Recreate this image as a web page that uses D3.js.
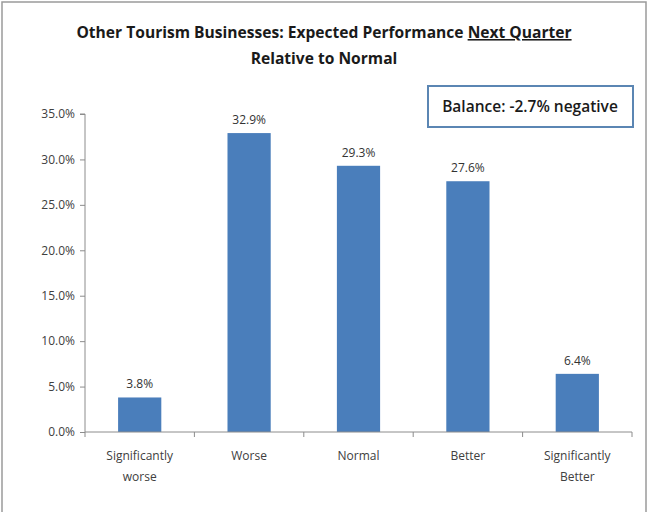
<!DOCTYPE html>
<html>
<head>
<meta charset="utf-8">
<script src="https://cdn.jsdelivr.net/npm/d3@7"></script>
<style>
  html, body { margin: 0; padding: 0; background: #fff; }
  svg { display: block; }
</style>
</head>
<body>
<svg id="chart" width="648" height="512"></svg>
<script>
// Survey outcome categories and share of responses (%)
const categories = ["Significantly worse", "Worse", "Normal", "Better", "Significantly Better"];
const categoryLines = [["Significantly", "worse"], ["Worse"], ["Normal"], ["Better"], ["Significantly", "Better"]];
const values = [3.8, 32.9, 29.3, 27.6, 6.4];
const yTicks = [0, 5, 10, 15, 20, 25, 30, 35];
const balanceText = "Balance: -2.7% negative";

const svg = d3.select("#chart");
const font = "'Open Sans', 'Liberation Sans', sans-serif";

// Outer frame
svg.append("rect")
  .attr("x", 2).attr("y", 2).attr("width", 644).attr("height", 514)
  .attr("fill", "#fff").attr("stroke", "#9a9a9a").attr("stroke-width", 1.5);

const margin = { left: 85, right: 632, top: 114, bottom: 432 };

const x = d3.scaleBand()
  .domain(categories)
  .range([margin.left, margin.right])
  .paddingInner(0.605).paddingOuter(0.3025);

const y = d3.scaleLinear().domain([0, 35]).range([margin.bottom, margin.top]);

// Title
const title = svg.append("g").attr("font-family", font).attr("font-weight", "bold")
  .attr("font-size", 15.6).attr("fill", "#1a1a1a").attr("text-anchor", "middle");
const t1 = title.append("text").attr("x", 324).attr("y", 38);
t1.append("tspan").text("Other Tourism Businesses: Expected Performance ");
t1.append("tspan").attr("text-decoration", "underline").text("Next Quarter");
title.append("text").attr("x", 324).attr("y", 64).text("Relative to Normal");

// Y axis
const yAxis = d3.axisLeft(y).tickValues(yTicks).tickSize(5).tickPadding(5)
  .tickFormat(d => d.toFixed(1) + "%");
const gy = svg.append("g").attr("transform", `translate(${margin.left},0)`).call(yAxis);
gy.select(".domain").attr("stroke", "#8c8c8c").attr("d", `M-5,${margin.top}H0V${margin.bottom}`);
gy.selectAll(".tick line").attr("stroke", "#8c8c8c");
gy.selectAll(".tick text").attr("font-family", font).attr("font-size", 12).attr("fill", "#404040");

// Bars
svg.append("g").selectAll("rect").data(values).join("rect")
  .attr("x", (d, i) => x(categories[i]))
  .attr("y", d => y(d))
  .attr("width", x.bandwidth())
  .attr("height", d => y(0) - y(d))
  .attr("fill", "#4a7ebb");

// Value labels
svg.append("g").selectAll("text").data(values).join("text")
  .attr("x", (d, i) => x(categories[i]) + x.bandwidth() / 2)
  .attr("y", d => y(d) - 9)
  .attr("text-anchor", "middle")
  .attr("font-family", font).attr("font-size", 12).attr("fill", "#333")
  .text(d => d.toFixed(1) + "%");

// X axis with category boundaries
const step = x.step();
const bounds = d3.range(categories.length + 1).map(i => margin.left + i * step);
const gx = svg.append("g");
gx.append("line").attr("x1", margin.left).attr("x2", margin.right)
  .attr("y1", margin.bottom).attr("y2", margin.bottom).attr("stroke", "#8c8c8c");
gx.selectAll("line.tk").data(bounds).join("line").attr("class", "tk")
  .attr("x1", d => d).attr("x2", d => d)
  .attr("y1", margin.bottom).attr("y2", margin.bottom + 5).attr("stroke", "#8c8c8c");

const labels = gx.selectAll("text").data(categoryLines).join("text")
  .attr("text-anchor", "middle")
  .attr("font-family", font).attr("font-size", 12).attr("fill", "#404040");
labels.each(function(lines, i) {
  const cx = x(categories[i]) + x.bandwidth() / 2;
  d3.select(this).selectAll("tspan").data(lines).join("tspan")
    .attr("x", cx).attr("y", (d, j) => 460 + j * 21).text(d => d);
});

// Balance annotation box
svg.append("rect")
  .attr("x", 428).attr("y", 86).attr("width", 205).attr("height", 41)
  .attr("fill", "#fff").attr("stroke", "#5b86b3").attr("stroke-width", 2);
svg.append("text")
  .attr("x", 530).attr("y", 112)
  .attr("text-anchor", "middle")
  .attr("font-family", font).attr("font-weight", 600).attr("font-size", 15.5).attr("fill", "#1a1a1a")
  .text(balanceText);
</script>
</body>
</html>
